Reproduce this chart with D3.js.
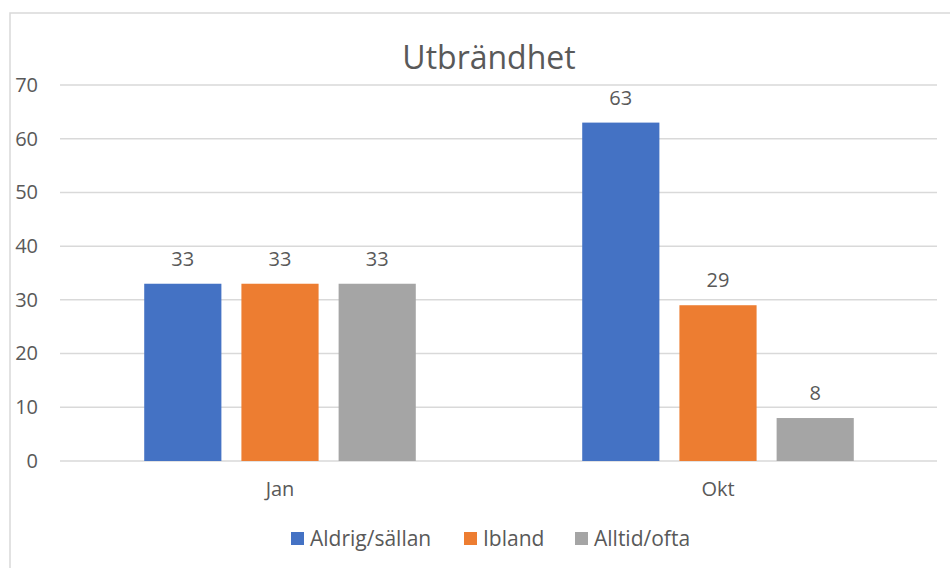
<!DOCTYPE html>
<meta charset="utf-8">
<style>
  body { margin: 0; background: #fff; }
  text { font-family: "Open Sans", "Noto Sans", sans-serif; fill: #595959; }
</style>
<body>
<svg width="950" height="568"></svg>

<script src="https://cdn.jsdelivr.net/npm/d3@7"></script>
<script>

// data
var categories = ["Jan", "Okt"];
var seriesNames = ["Aldrig/sällan", "Ibland", "Alltid/ofta"];
var aldrig = [33, 63];
var ibland = [33, 29];
var alltid = [33, 8];
var yTicks = [0, 10, 20, 30, 40, 50, 60, 70];

var seriesValues = [aldrig, ibland, alltid];
var colors = ["#4472C4", "#ED7D31", "#A5A5A5"];

var svg = d3.select("svg"),
    margin = {top: 85, left: 61, right: 13, bottom: 107},
    width = +svg.attr("width") - margin.left - margin.right,
    height = +svg.attr("height") - margin.top - margin.bottom;

// chart area border
svg.append("rect")
    .attr("x", 10).attr("y", 13)
    .attr("width", 980).attr("height", 600)
    .attr("fill", "none")
    .attr("stroke", "#d9d9d9")
    .attr("stroke-width", 1.5);

// title
svg.append("text")
    .attr("x", 489).attr("y", 69)
    .attr("text-anchor", "middle")
    .style("font-size", "32px")
    .text("Utbrändhet");

var x0 = d3.scaleBand().domain(categories).range([0, width]).padding(0);
var x1 = d3.scaleBand().domain(seriesNames)
    .range([x0.bandwidth() * 0.19, x0.bandwidth() * 0.81])
    .paddingInner(0.206);
var y = d3.scaleLinear().domain([0, 70]).range([height, 0]);

var g = svg.append("g")
    .attr("transform", "translate(" + margin.left + "," + margin.top + ")");

// gridlines
g.selectAll(".grid")
    .data(yTicks)
  .enter().append("line")
    .attr("x1", -1).attr("x2", width)
    .attr("y1", function(d) { return y(d); })
    .attr("y2", function(d) { return y(d); })
    .attr("stroke", "#d9d9d9")
    .attr("stroke-width", 1.5);

// y axis labels
var yAxis = d3.axisLeft(y).tickValues(yTicks).tickSize(0).tickPadding(23);
g.append("g").call(yAxis)
    .call(function(a) { a.select(".domain").remove(); })
    .selectAll("text")
    .style("font-size", "20px")
    .attr("fill", "#595959");

// x axis labels
var xAxis = d3.axisBottom(x0).tickSize(0).tickPadding(21);
g.append("g")
    .attr("transform", "translate(0," + height + ")")
    .call(xAxis)
    .call(function(a) { a.select(".domain").remove(); })
    .selectAll("text")
    .style("font-size", "20px")
    .attr("fill", "#595959");

// bars
var groups = g.selectAll(".cat")
    .data(categories)
  .enter().append("g")
    .attr("transform", function(d) { return "translate(" + x0(d) + ",0)"; });

groups.each(function(cat, ci) {
    var rows = seriesNames.map(function(s, si) {
        return {name: s, value: seriesValues[si][ci], color: colors[si]};
    });
    var grp = d3.select(this);
    grp.selectAll("rect")
        .data(rows)
      .enter().append("rect")
        .attr("x", function(d) { return x1(d.name); })
        .attr("width", x1.bandwidth())
        .attr("y", function(d) { return y(d.value); })
        .attr("height", function(d) { return height - y(d.value); })
        .attr("fill", function(d) { return d.color; });
    grp.selectAll(".lbl")
        .data(rows)
      .enter().append("text")
        .attr("x", function(d) { return x1(d.name) + x1.bandwidth() / 2; })
        .attr("y", function(d) { return y(d.value) - 18; })
        .attr("text-anchor", "middle")
        .style("font-size", "20px")
        .text(function(d) { return d.value; });
});

// legend
var legendX = [291, 464, 575];
var legend = svg.append("g");
seriesNames.forEach(function(s, i) {
    legend.append("rect")
        .attr("x", legendX[i]).attr("y", 532)
        .attr("width", 13).attr("height", 13)
        .attr("fill", colors[i]);
    legend.append("text")
        .attr("x", legendX[i] + 19).attr("y", 546)
        .style("font-size", "21px")
        .text(s);
});

</script>
</body>
